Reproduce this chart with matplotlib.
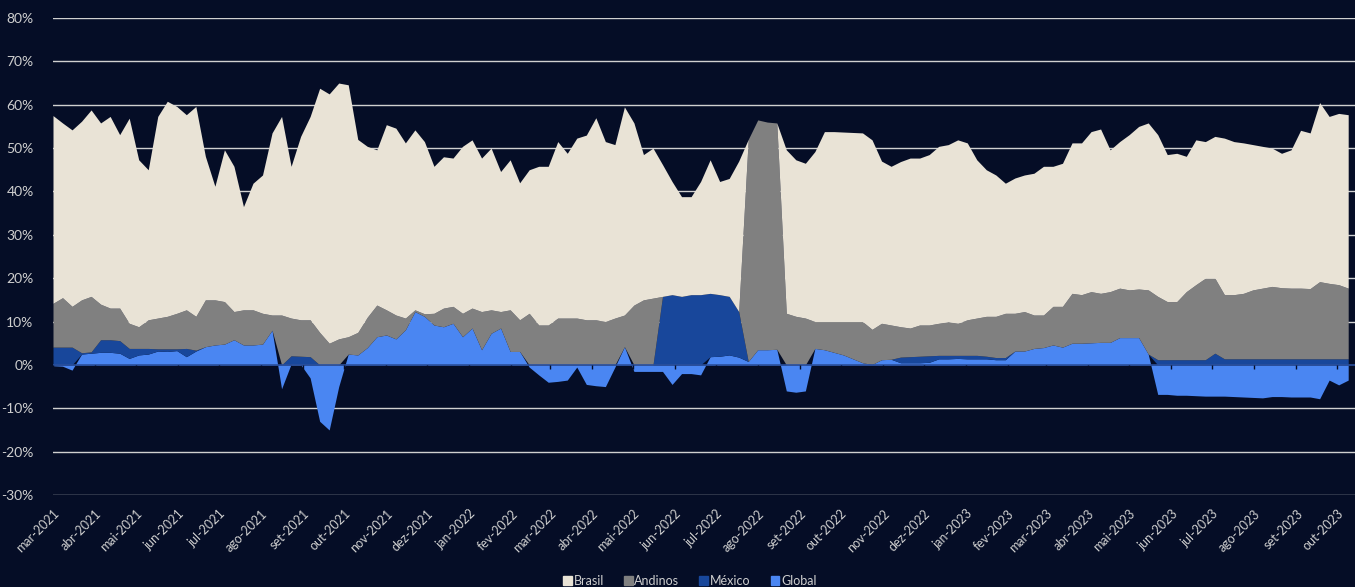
import matplotlib
matplotlib.use("Agg")
import matplotlib.pyplot as plt
from matplotlib.patches import Patch
import numpy as np
import pandas as pd

# weekly readings, in % of the portfolio
dates = pd.date_range("2021-03-01", periods=137, freq="7D")

brasil = [
    43.3, 40.3, 40.7, 41.2, 43.0, 41.8, 44.2, 40.0, 47.3, 38.5,
    34.6, 46.5, 49.6, 47.7, 45.0, 48.4, 33.1, 26.2, 35.0, 33.5,
    23.8, 29.2, 31.9, 42.0, 45.8, 35.0, 42.3, 46.9,
    56.3, 57.5, 59.0, 58.1, 44.5, 39.4, 35.8, 42.7, 43.1, 40.4,
    41.5, 39.7, 33.9, 34.9, 34.2, 38.5, 38.8, 35.4, 37.3, 32.3,
    34.6, 31.6, 33.1, 36.6, 36.6, 40.7, 38.0,
    41.5, 42.6, 46.6, 41.5, 40.0, 48.0, 42.0, 33.5, 34.6, 30.4,
    26.1, 23.0, 22.6, 26.1, 30.8, 26.1, 27.2, 34.7, 0.0, 0.0,
    0.0, 0.0, 37.7, 36.1, 35.7, 39.2, 43.8,
    43.8, 43.7, 43.6, 43.5, 43.7, 37.4, 36.6, 38.1, 39.2, 38.5,
    39.3, 40.8, 40.8, 42.3, 40.8, 36.5, 33.8, 32.6, 30.0, 31.2,
    31.5, 32.7, 34.3, 32.3, 33.0, 34.7, 35.0, 36.9,
    37.9, 32.7, 33.8, 35.8, 37.5, 38.5, 37.3, 33.9, 34.2, 31.2,
    33.4, 31.5, 32.7, 36.1, 35.3, 34.7, 33.5, 32.7, 31.9, 31.0,
    31.9, 36.4, 35.9, 41.3, 38.5, 39.5, 40.0,
]

andinos = [
    10.1, 11.4, 9.4, 12.2, 12.8, 8.2, 7.3, 7.5, 5.8, 5.0,
    6.6, 7.1, 7.5, 8.2, 8.9, 7.8, 10.8, 10.4, 9.8, 6.5,
    8.1, 8.1, 7.1, 3.5, 11.5, 8.7, 8.4, 8.5,
    7.5, 5.0, 6.0, 4.0, 5.2, 7.0, 7.3, 5.8, 5.5, 2.7,
    0.4, 0.6, 2.7, 4.3, 3.9, 5.4, 4.6, 8.8, 5.4, 3.8,
    9.6, 7.3, 11.9, 9.2, 9.2, 10.8, 10.8,
    10.8, 10.4, 10.4, 10.0, 10.8, 7.3, 13.8, 15.0, 15.4, 0.0,
    0.0, 0.0, 0.0, 0.0, 0.0, 0.0, 0.0, 0.0, 51.2, 53.0,
    52.5, 52.2, 11.9, 11.2, 10.8, 6.2, 6.5,
    7.1, 7.7, 8.6, 9.5, 8.1, 8.4, 7.9, 7.0, 6.6, 7.2,
    7.1, 7.4, 7.8, 7.4, 8.2, 8.6, 9.2, 9.5, 10.2, 8.7,
    9.1, 7.7, 7.5, 8.9, 9.4, 11.5, 11.2, 11.8,
    11.3, 11.7, 11.4, 11.0, 11.2, 14.8, 14.6, 13.4, 13.4, 15.7,
    17.3, 18.8, 17.3, 14.8, 14.8, 15.1, 15.9, 16.3, 16.7, 16.4,
    16.3, 16.3, 16.2, 17.8, 17.4, 17.1, 16.3,
]

mexico = [
    4.1, 4.1, 4.1, 0.3, 0.3, 2.9, 2.9, 2.9, 2.3, 1.5,
    1.3, 0.5, 0.6, 0.4, 1.9, 0.2, 0.0, 0.0, 0.0, 0.0,
    0.0, 0.0, 0.0, 0.0, 0.0, 1.9, 1.9, 1.9,
    0.0, 0.0, 0.0, 0.0, 0.0, 0.0, 0.0, 0.0, 0.0, 0.0,
    0.0, 0.0, 0.0, 0.0, 0.0, 0.0, 0.0, 0.0, 0.0, 0.0,
    0.0, 0.0, 0.0, 0.0, 0.0, 0.0, 0.0,
    0.0, 0.0, 0.0, 0.0, 0.0, 0.0, 0.0, 0.0, 0.0, 15.8,
    16.2, 15.8, 16.2, 16.2, 14.6, 14.2, 13.5, 10.5, 0.0, 0.0,
    0.0, 0.0, 0.0, 0.0, 0.0, 0.0, 0.0,
    0.0, 0.0, 0.0, 0.0, 0.0, 0.0, 0.0, 1.3, 1.4, 1.5,
    1.5, 0.8, 0.8, 0.7, 0.8, 0.8, 0.6, 0.5, 0.5, 0.0,
    0.0, 0.0, 0.0, 0.0, 0.0, 0.0, 0.0, 0.0,
    0.0, 0.0, 0.0, 0.0, 0.0, 0.0, 1.2, 1.2, 1.2, 1.2,
    1.2, 1.2, 2.7, 1.4, 1.4, 1.4, 1.4, 1.4, 1.4, 1.4,
    1.4, 1.4, 1.4, 1.4, 1.4, 1.4, 1.4,
]

global_ = [
    -0.2, -0.3, -1.2, 2.5, 2.7, 2.9, 2.9, 2.7, 1.5, 2.3,
    2.5, 3.2, 3.1, 3.3, 1.9, 3.2, 4.2, 4.6, 4.8, 5.8,
    4.6, 4.6, 4.8, 8.0, -5.5, 0.2, 0.1, -3.0,
    -13.0, -15.0, -5.0, 2.5, 2.3, 4.0, 6.5, 6.9, 6.0, 8.1,
    12.3, 11.2, 9.2, 8.8, 9.6, 6.5, 8.5, 3.5, 7.3, 8.5,
    3.1, 3.1, -0.5, -2.3, -4.0, -3.8, -3.5,
    -0.5, -4.5, -4.8, -5.0, -0.5, 4.2, -1.5, -1.5, -1.5, -1.5,
    -4.5, -2.0, -2.0, -2.3, 1.9, 2.0, 2.3, 1.8, 0.8, 3.5,
    3.5, 3.6, -6.0, -6.3, -6.0, 3.8, 3.5,
    2.9, 2.3, 1.4, 0.5, 0.1, 1.2, 1.3, 0.5, 0.5, 0.5,
    0.6, 1.4, 1.4, 1.5, 1.4, 1.4, 1.4, 1.2, 1.2, 3.2,
    3.2, 3.8, 4.0, 4.6, 4.1, 5.0, 5.0, 5.1,
    5.2, 5.2, 6.3, 6.3, 6.3, 2.5, -6.8, -6.8, -7.0, -7.0,
    -7.1, -7.2, -7.2, -7.2, -7.3, -7.4, -7.5, -7.6, -7.3, -7.3,
    -7.4, -7.4, -7.4, -7.8, -3.5, -4.6, -3.5,
]

month_names = ["jan", "fev", "mar", "abr", "mai", "jun",
               "jul", "ago", "set", "out", "nov", "dez"]
series_names = ["Brasil", "Andinos", "México", "Global"]

bg = "#050d26"
colors = {"Brasil": "#e9e3d6", "Andinos": "#808080",
          "México": "#18479b", "Global": "#4a86f2"}
txt = "#cfcfcf"

plt.rcParams["font.family"] = ["Lato", "DejaVu Sans"]

fig = plt.figure(figsize=(13.55, 5.87), dpi=100, facecolor=bg)
ax = fig.add_axes([53 / 1355, 92 / 587, 1302 / 1355, 477 / 587])
ax.set_facecolor(bg)

g = np.array(global_)
m = np.array(mexico)
a = np.array(andinos)
b = np.array(brasil)

# positive values stack upward from zero, negative Global hangs below
g_pos = np.clip(g, 0, None)
ax.fill_between(dates, 0, g, color=colors["Global"], lw=0, zorder=2)
ax.fill_between(dates, g_pos, g_pos + m, color=colors["México"], lw=0, zorder=2)
ax.fill_between(dates, g_pos + m, g_pos + m + a, color=colors["Andinos"], lw=0, zorder=2)
ax.fill_between(dates, g_pos + m + a, g_pos + m + a + b, color=colors["Brasil"], lw=0, zorder=2)

ax.set_ylim(-30, 80)
ax.set_xlim(pd.Timestamp("2021-03-01"), pd.Timestamp("2023-10-14"))

yt = np.arange(-30, 81, 10)
ax.set_yticks(yt)
ax.set_yticklabels([f"{v}%" for v in yt])
for v in yt:
    if v != 0:
        ax.axhline(v, color="#d0d0d0", lw=1.0, zorder=1)
ax.axhline(0, color="#2a4f9c", lw=1.2, zorder=3)

months = pd.date_range("2021-03-01", "2023-10-01", freq="MS")
ax.set_xticks(months)
ax.set_xticklabels([f"{month_names[d.month - 1]}-{d.year}" for d in months],
                   rotation=45, ha="right", rotation_mode="anchor")
ax.vlines(months, -0.9, 0, colors=bg, lw=1, zorder=3)

ax.tick_params(axis="y", length=0, pad=14, labelsize=10, labelcolor=txt)
ax.tick_params(axis="x", length=0, pad=9, labelsize=9, labelcolor=txt)
for s in ax.spines.values():
    s.set_visible(False)

handles = [Patch(color=colors[n]) for n in series_names]
fig.legend(handles, series_names, loc="center", bbox_to_anchor=(0.509, 0.011),
           ncol=4, frameon=False, fontsize=9, handlelength=0.7,
           handleheight=0.7, handletextpad=0.15, columnspacing=1.6,
           labelcolor=txt)

fig.savefig("out.png", dpi=100, facecolor=bg)
